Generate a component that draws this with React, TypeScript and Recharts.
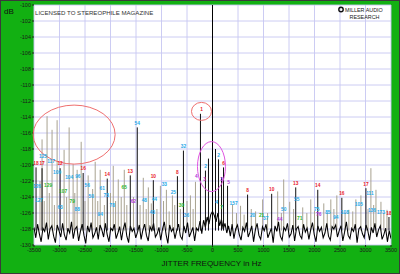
import React from 'react';
import {
  ComposedChart,
  Line,
  XAxis,
  YAxis,
  CartesianGrid,
  ReferenceLine,
  ReferenceDot,
  Scatter,
} from 'recharts';

// ---------- data ----------
const FREQ_TICKS = [-3500, -3000, -2500, -2000, -1500, -1000, -500, 0, 500, 1000, 1500, 2000, 2500, 3000, 3500];
const DB_TICKS = [-130, -128, -126, -124, -122, -120, -118, -116, -114, -112, -110, -108, -106, -104, -102, -100];

const NOISE_START = -3500;
const NOISE_STEP = 35;
const NOISE_DB = [
  -127.8, -129.1, -127.4, -128.6, -129.6, -127.9, -128.3, -127.2, -129.3, -128.0,
  -127.6, -128.9, -129.7, -127.5, -128.2, -129.0, -127.3, -128.7, -129.4, -127.9,
  -128.5, -127.1, -129.2, -128.0, -127.7, -129.5, -128.3, -127.4, -128.8, -129.8,
  -127.6, -128.4, -127.2, -129.1, -128.6, -127.8, -129.3, -127.5, -128.1, -129.0,
  -127.3, -128.7, -129.6, -127.9, -128.2, -127.4, -129.2, -128.5, -127.7, -129.4,
  -128.0, -127.2, -128.9, -129.7, -127.6, -128.3, -127.9, -129.1, -128.4, -127.5,
  -129.3, -128.1, -127.4, -128.8, -129.5, -127.7, -128.2, -127.3, -129.0, -128.6,
  -127.8, -129.4, -128.0, -127.1, -128.7, -129.8, -127.5, -128.3, -127.9, -129.2,
  -128.1, -127.4, -128.9, -129.3, -127.6, -128.5, -127.2, -129.0, -128.4, -127.8,
  -129.5, -127.9, -128.2, -127.0, -128.6, -126.9, -127.8, -126.5, -127.4, -126.2,
  -125.8, -126.3, -127.1, -126.0, -127.6, -126.8, -128.0, -127.3, -128.5, -127.6,
  -128.9, -127.4, -129.2, -128.0, -127.5, -128.7, -129.4, -127.8, -128.3, -127.2,
  -129.0, -128.4, -127.6, -129.6, -128.1, -127.3, -128.8, -129.3, -127.7, -128.2,
  -127.4, -129.1, -128.5, -127.9, -129.7, -127.6, -128.3, -127.1, -128.9, -129.4,
  -127.8, -128.2, -127.3, -129.0, -128.6, -127.5, -129.5, -128.0, -127.7, -128.8,
  -129.2, -127.4, -128.4, -127.9, -129.3, -128.1, -127.2, -128.7, -129.6, -127.6,
  -128.3, -127.8, -129.1, -128.5, -127.3, -128.9, -129.4, -127.7, -128.0, -127.5,
  -129.0, -128.2, -127.6, -129.5, -128.4, -127.1, -128.8, -129.2, -127.9, -128.3,
  -127.4, -129.7, -128.0, -127.7, -128.6, -129.1, -127.5, -128.2, -129.4, -127.8,
  -128.5, -127.3, -129.0, -128.1, -127.6, -129.3, -128.7, -127.9, -129.6, -128.2,
  -129.2,
];

const SPIKE_FLOOR = -128.2;
const CARRIER_HZ = 0;

// [frequency Hz, peak dB]
const GRAY_SPIKES: [number, number][] = [
  [-3382, -122.0], [-3342, -116.8], [-3244, -113.9], [-3146, -115.6], [-3047, -114.4],
  [-2910, -118.1], [-2811, -115.3], [-2733, -119.9], [-2654, -120.6], [-2575, -117.1],
  [-2438, -121.3], [-2300, -119.6], [-2202, -120.6], [-1946, -120.1], [-1848, -121.8],
  [-1730, -120.6], [-1357, -121.6], [-1258, -122.8], [-1022, -122.6], [-904, -123.1],
  [-786, -123.8], [-433, -123.8], [-334, -122.1], [393, -124.9], [550, -125.1],
  [845, -125.8], [983, -124.3], [1278, -123.3], [1396, -121.8], [1514, -124.6],
  [1769, -125.3], [1927, -124.3], [2182, -124.8], [2320, -124.3], [2438, -123.8],
  [2674, -125.6], [2811, -124.3], [2910, -123.8], [3106, -120.4], [3205, -123.1],
  [3303, -124.6], [3421, -125.6],
  [-3300, -124.5], [-3200, -123.5], [-3100, -125.0], [-2860, -124.0], [-2700, -123.5],
  [-2500, -124.5], [-2350, -123.0], [-2250, -124.5], [-2120, -125.0], [-2000, -123.5],
  [-1900, -124.5], [-1790, -124.0], [-1680, -125.0], [-1550, -124.0], [-1420, -125.0],
  [-1300, -125.5], [-1200, -124.8], [-1090, -125.5], [-960, -124.5], [-850, -125.8],
  [-740, -125.0], [-630, -125.5], [-500, -124.5], [-380, -125.5], [470, -126.0],
  [620, -126.2], [760, -125.5], [1080, -126.0], [1350, -126.0], [1590, -125.5],
  [1850, -126.0], [2000, -125.7], [2250, -126.0], [2380, -125.5], [2600, -126.0],
  [2750, -125.8], [3050, -125.5], [3160, -125.0], [3360, -126.0],
];

const BLACK_SPIKES: [number, number][] = [
  [-3460, -120.3], [-3342, -120.4], [-2988, -120.4], [-2536, -121.0], [-2064, -121.7],
  [-1612, -121.3], [-1475, -115.3], [-1160, -121.9], [-688, -121.4], [-570, -118.2],
  [-236, -113.6], [-138, -120.7], [-79, -119.2], [59, -118.0], [118, -119.3],
  [177, -121.5], [216, -120.3], [295, -122.6], [688, -123.7], [1160, -123.6],
  [1632, -122.8], [2064, -123.1], [2536, -124.1], [3008, -122.9], [3460, -126.5],
];

// [frequency Hz, dB, text]
const RED_LABELS: [number, number, string][] = [
  [-3460, -119.8, '18'], [-3342, -119.8, '17'], [-2988, -119.8, '12'], [-2536, -120.4, '16'],
  [-2064, -121.2, '14'], [-1612, -120.8, '13'], [-1160, -121.4, '10'], [-688, -120.9, '8'],
  [-216, -113.1, '1'], [216, -119.8, '6'], [688, -123.2, '8'], [1160, -123.1, '10'],
  [1632, -122.3, '13'], [2064, -122.6, '14'], [2536, -123.6, '16'], [3008, -122.4, '17'],
  [3460, -126.1, '18'],
];

const CYAN_LABELS: [number, number, string][] = [
  [-1475, -114.8, '54'], [-570, -117.7, '32'], [-138, -120.2, '2'], [118, -118.8, '2'],
  [-3323, -118.9, '125'], [-3165, -119.6, '117'], [-3047, -120.9, '109'], [-2811, -121.6, '104'],
  [-2640, -121.4, '96'], [-3441, -122.7, '126'], [-2458, -122.6, '56'], [-2379, -123.9, '50'],
  [-2163, -122.9, '61'], [-2084, -123.8, '73'], [-1966, -125.1, '78'], [-3401, -124.4, '127'],
  [-2988, -125.3, '63'], [-2654, -125.6, '88'], [-2202, -126.2, '94'], [-1180, -125.9, '40'],
  [-1337, -124.4, '48'], [-1140, -124.3, '44'], [-944, -122.4, '33'], [-767, -123.4, '25'],
  [-511, -126.3, '36'], [79, -124.7, '4'], [413, -124.8, '157'], [786, -126.3, '20'],
  [1042, -126.7, '37'], [1396, -125.6, '50'], [1651, -124.3, '55'], [2045, -125.6, '75'],
  [2261, -125.9, '85'], [2418, -126.6, '94'], [2595, -125.9, '108'], [2870, -124.9, '105'],
  [3087, -123.6, '111'], [3126, -125.7, '136'], [3303, -125.9, '173'],
];

const GREEN_LABELS: [number, number, string][] = [
  [-3224, -122.6, '129'], [-2929, -123.3, '107'], [-2752, -124.6, '79'], [-1730, -122.8, '65'],
  [-609, -125.1, '30'], [963, -126.3, '21'], [1710, -126.7, '71'], [177, -125.3, '7'],
];

const PURPLE_LABELS: [number, number, string][] = [
  [-315, -121.4, '4'], [-157, -121.8, '3'], [177, -121.8, '3'], [315, -122.2, '5'],
  [-1553, -124.6, '62'], [1317, -126.8, '44'], [2084, -126.2, '76'],
];

// annotation centres [frequency Hz, dB]
const LEFT_ELLIPSE_CENTER: [number, number] = [-2713, -116.2];
const RED_CIRCLE_CENTER: [number, number] = [-216, -113.3];
const MAGENTA_ELLIPSE_CENTER: [number, number] = [-20, -120.2];

// ---------- derived tables ----------
const noiseRows = NOISE_DB.map((db, i) => ({ f: NOISE_START + i * NOISE_STEP, noise: db }));
const toLabelRows = (arr: [number, number, string][]) => arr.map(([f, db, t]) => ({ f, db, t }));

const FONT = '"Liberation Sans", Arial, Helvetica, sans-serif';
const GREEN = '#12b012';

const labelShape = (color: string) => (props: any) => (
  <text
    x={props.cx}
    y={props.cy}
    fill={color}
    fontSize={4.8}
    fontWeight="bold"
    fontFamily={FONT}
    textAnchor="middle"
    dominantBaseline="central"
  >
    {props.payload.t}
  </text>
);

const ellipseShape = (rx: number, ry: number, color: string) => (props: any) => (
  <ellipse cx={props.cx} cy={props.cy} rx={rx} ry={ry} fill="none" stroke={color} strokeWidth={1} />
);

export default function App() {
  const tickStyle = { fontSize: 5.5, fill: '#1a1a1a', fontFamily: FONT };
  return (
    <div
      style={{
        position: 'fixed',
        left: 0,
        top: 0,
        width: 400,
        height: 274,
        background: GREEN,
        overflow: 'hidden',
      }}
    >
      <ComposedChart
        width={400}
        height={274}
        data={noiseRows}
        margin={{ top: 5, right: 9, left: 8, bottom: 15 }}
      >
        <CartesianGrid fill="#ffffff" fillOpacity={1} stroke="#c6c6f2" strokeWidth={0.9} />
        <XAxis
          type="number"
          dataKey="f"
          domain={[-3500, 3500]}
          ticks={FREQ_TICKS}
          interval={0}
          allowDataOverflow
          height={14}
          tickSize={2}
          tickMargin={1}
          axisLine={false}
          tickLine={{ stroke: '#222' }}
          tick={tickStyle}
        />
        <YAxis
          type="number"
          domain={[-130, -100]}
          ticks={DB_TICKS}
          interval={0}
          allowDataOverflow
          width={26}
          tickSize={2}
          tickMargin={1}
          axisLine={false}
          tickLine={{ stroke: '#222' }}
          tick={tickStyle}
        />
        {GRAY_SPIKES.map(([f, db], i) => (
          <ReferenceLine
            key={'g' + i}
            segment={[{ x: f, y: SPIKE_FLOOR }, { x: f, y: db }]}
            stroke="#a8a290"
            strokeWidth={1}
          />
        ))}
        <Line
          type="linear"
          dataKey="noise"
          stroke="#000000"
          strokeWidth={1.05}
          dot={false}
          activeDot={false}
          isAnimationActive={false}
        />
        {BLACK_SPIKES.map(([f, db], i) => (
          <ReferenceLine
            key={'k' + i}
            segment={[{ x: f, y: SPIKE_FLOOR }, { x: f, y: db }]}
            stroke="#111111"
            strokeWidth={1}
          />
        ))}
        <ReferenceLine x={CARRIER_HZ} stroke="#000000" strokeWidth={1} />
        <ReferenceDot
          x={LEFT_ELLIPSE_CENTER[0]}
          y={LEFT_ELLIPSE_CENTER[1]}
          ifOverflow="visible"
          shape={ellipseShape(41, 29.5, '#ef6f6f')}
        />
        <ReferenceDot
          x={RED_CIRCLE_CENTER[0]}
          y={RED_CIRCLE_CENTER[1]}
          ifOverflow="visible"
          shape={ellipseShape(10, 9, '#ef6f6f')}
        />
        <ReferenceDot
          x={MAGENTA_ELLIPSE_CENTER[0]}
          y={MAGENTA_ELLIPSE_CENTER[1]}
          ifOverflow="visible"
          shape={ellipseShape(14, 25, '#e055e0')}
        />
        <Scatter data={toLabelRows(CYAN_LABELS)} dataKey="db" shape={labelShape('#1ea8e8')} isAnimationActive={false} />
        <Scatter data={toLabelRows(GREEN_LABELS)} dataKey="db" shape={labelShape('#2bb52b')} isAnimationActive={false} />
        <Scatter data={toLabelRows(PURPLE_LABELS)} dataKey="db" shape={labelShape('#b035d8')} isAnimationActive={false} />
        <Scatter data={toLabelRows(RED_LABELS)} dataKey="db" shape={labelShape('#e8202a')} isAnimationActive={false} />
      </ComposedChart>
      <svg
        width={400}
        height={274}
        style={{ position: 'absolute', left: 0, top: 0, pointerEvents: 'none' }}
      >
        <text x={4} y={11.5} fontSize={8} fontFamily={FONT} fill="#111" dominantBaseline="central">
          dB
        </text>
        <text x={35} y={12.7} fontSize={6.1} fontFamily={FONT} fill="#333" dominantBaseline="central">
          LICENSED TO STEREOPHILE MAGAZINE
        </text>
        <circle cx={341} cy={9.5} r={2.2} fill="none" stroke="#111" strokeWidth={1.4} />
        <text x={345} y={9.5} fontSize={5.4} fontFamily={FONT} fill="#222" dominantBaseline="central">
          MILLER AUDIO
        </text>
        <text x={364.5} y={16.5} fontSize={5.4} fontFamily={FONT} fill="#222" textAnchor="middle" dominantBaseline="central">
          RESEARCH
        </text>
        <text x={211.5} y={263} fontSize={8} fontFamily={FONT} fill="#111" textAnchor="middle" dominantBaseline="central">
          JITTER FREQUENCY in Hz
        </text>
        <rect x={0.5} y={0.5} width={399} height={273} fill="none" stroke="#3a3a3a" strokeWidth={1} />
      </svg>
    </div>
  );
}
